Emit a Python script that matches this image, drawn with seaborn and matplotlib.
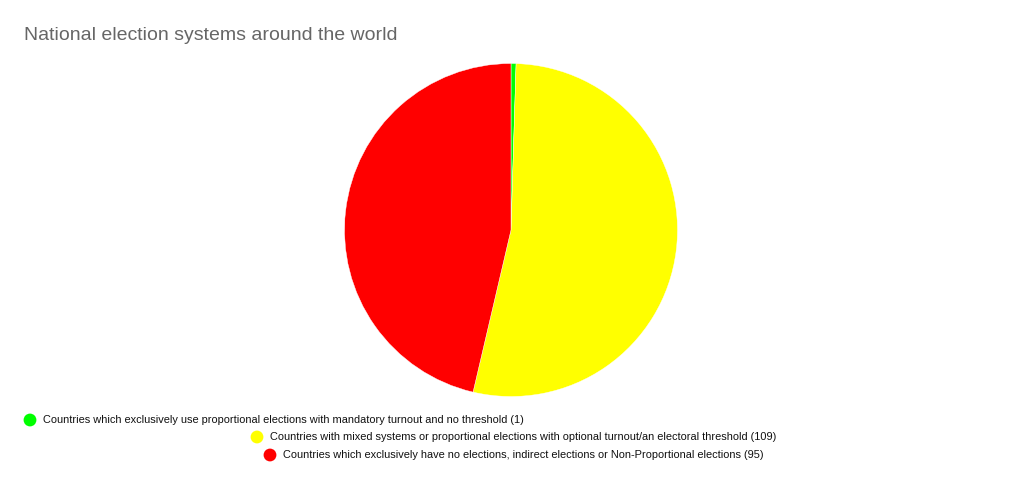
import matplotlib
matplotlib.use("Agg")
import matplotlib.pyplot as plt
import seaborn as sns

title = "National election systems around the world"
labels = [
    "Countries which exclusively use proportional elections with mandatory turnout and no threshold",
    "Countries with mixed systems or proportional elections with optional turnout/an electoral threshold",
    "Countries which exclusively have no elections, indirect elections or Non-Proportional elections",
]
counts = [1, 109, 95]
colors = ["#00ff00", "#ffff00", "#ff0000"]

# legend row placement in pixels (marker x, row y)
legend_x = [30, 257, 270]
legend_y = [420, 437, 455]

sns.set_theme(style="white")
plt.rcParams["font.family"] = ["Liberation Sans", "DejaVu Sans"]

W, H = 1023, 486
fig = plt.figure(figsize=(W / 100, H / 100), dpi=100)
fig.patch.set_facecolor("white")

cx, cy, r = 511, 230, 166.5
ax = fig.add_axes([(cx - r) / W, (H - cy - r) / H, 2 * r / W, 2 * r / H])
ax.pie(counts, colors=colors, startangle=90, counterclock=False, radius=1,
       wedgeprops=dict(edgecolor="white", linewidth=0.3))
ax.set_xlim(-1, 1)
ax.set_ylim(-1, 1)
ax.set_aspect("equal")
ax.axis("off")

fig.text(24 / W, 1 - 36 / H, title, fontsize=14, color="#666666", va="center", ha="left")

lax = fig.add_axes([0, 0, 1, 1])
lax.set_xlim(0, W)
lax.set_ylim(H, 0)
lax.axis("off")
for lab, n, c, x, y in zip(labels, counts, colors, legend_x, legend_y):
    lax.scatter([x], [y], s=85, color=c, edgecolors="none")
    lax.text(x + 13, y, f"{lab} ({n})", fontsize=7.9, color="#111111", va="center", ha="left")

fig.savefig("out.png", dpi=100, facecolor="white")
